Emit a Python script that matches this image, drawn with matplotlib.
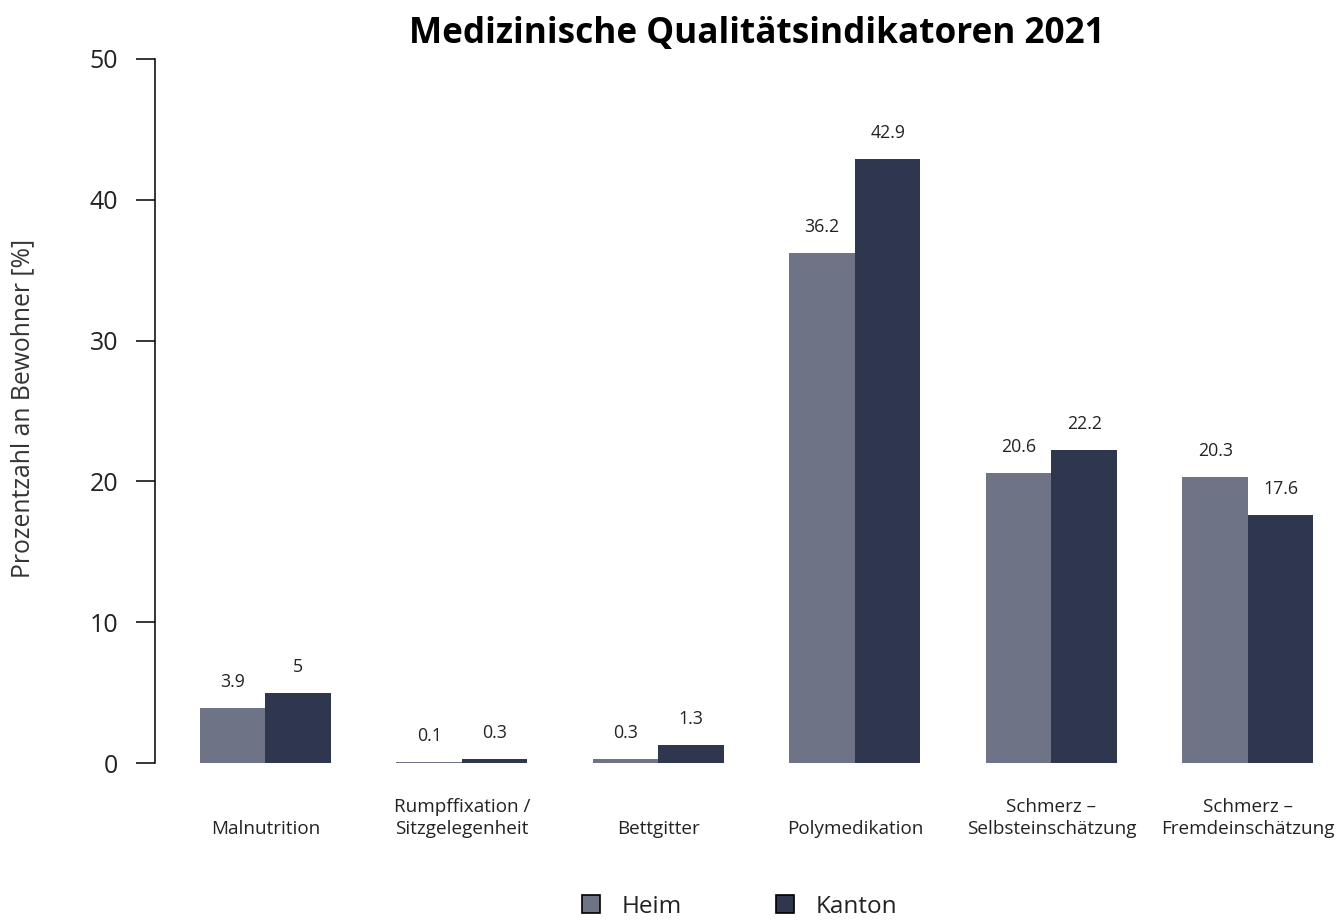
import matplotlib
matplotlib.use('Agg')
import matplotlib.pyplot as plt
from matplotlib.lines import Line2D

plt.rcParams['font.family'] = ['Open Sans', 'DejaVu Sans']

categories = ['Malnutrition', 'Rumpffixation /\nSitzgelegenheit', 'Bettgitter',
              'Polymedikation', 'Schmerz \u2013\nSelbsteinschätzung',
              'Schmerz \u2013\nFremdeinschätzung']
heim = [3.9, 0.1, 0.3, 36.2, 20.6, 20.3]
kanton = [5, 0.3, 1.3, 42.9, 22.2, 17.6]
yticks = [0, 10, 20, 30, 40, 50]

col_heim = '#6e7385'
col_kanton = '#2e374e'
txt = '#222222'

W, H = 1341, 921
fig = plt.figure(figsize=(W / 100, H / 100), dpi=100)
ax = fig.add_axes([155.3 / W, 0.1409, 1202.7 / W, 0.8257])

# bars placed like R barplot(beside=TRUE, space=c(0,1))
x_heim = [1.5 + 3 * i for i in range(len(categories))]
x_kanton = [2.5 + 3 * i for i in range(len(categories))]
ax.bar(x_heim, heim, width=1.0, color=col_heim, linewidth=0)
ax.bar(x_kanton, kanton, width=1.0, color=col_kanton, linewidth=0)

for xs, vals in ((x_heim, heim), (x_kanton, kanton)):
    for x, v in zip(xs, vals):
        ax.annotate(f'{v:g}', (x, v), xytext=(0, 18.7), textcoords='offset points',
                    ha='center', va='center', fontsize=12.8, color=txt)

for i, cat in enumerate(categories):
    ax.annotate(cat, (2 + 3 * i, 0), xytext=(0, -54), textcoords='offset points',
                ha='center', va='bottom', fontsize=13.6, color=txt,
                linespacing=1.3, annotation_clip=False)

ax.set_xlim(0.32, 18.68)
ax.set_ylim(-2, 52)
for s in ('top', 'right', 'bottom'):
    ax.spines[s].set_visible(False)
ax.spines['left'].set_bounds(0, 50)
ax.spines['left'].set_linewidth(1.1)
ax.spines['left'].set_color('black')
ax.set_xticks([])
ax.set_yticks(yticks)
ax.tick_params(axis='y', direction='out', length=13.7, width=1.1, pad=13,
               labelsize=18, labelcolor=txt)

fig.text((155.3 + 1358) / 2 / W, (H - 43) / H, 'Medizinische Qualitätsindikatoren 2021',
         ha='center', va='baseline', fontsize=25.3, fontweight='bold', color='black')
fig.text(23 / W, (H - 408) / H, 'Prozentzahl an Bewohner [%]', rotation=90,
         ha='center', va='center', fontsize=17.8, color='#333333')

handles = [Line2D([], [], marker='s', linestyle='none', markersize=13,
                  markerfacecolor=c, markeredgecolor='black', markeredgewidth=1.2)
           for c in (col_heim, col_kanton)]
fig.legend(handles, ['Heim', 'Kanton'], loc='center',
           bbox_to_anchor=(732 / W, (H - 907) / H),
           ncol=2, frameon=False, fontsize=17.5, handletextpad=0.27, columnspacing=3.25,
           borderpad=0, labelcolor=txt)

fig.savefig('out.png', dpi=100)
